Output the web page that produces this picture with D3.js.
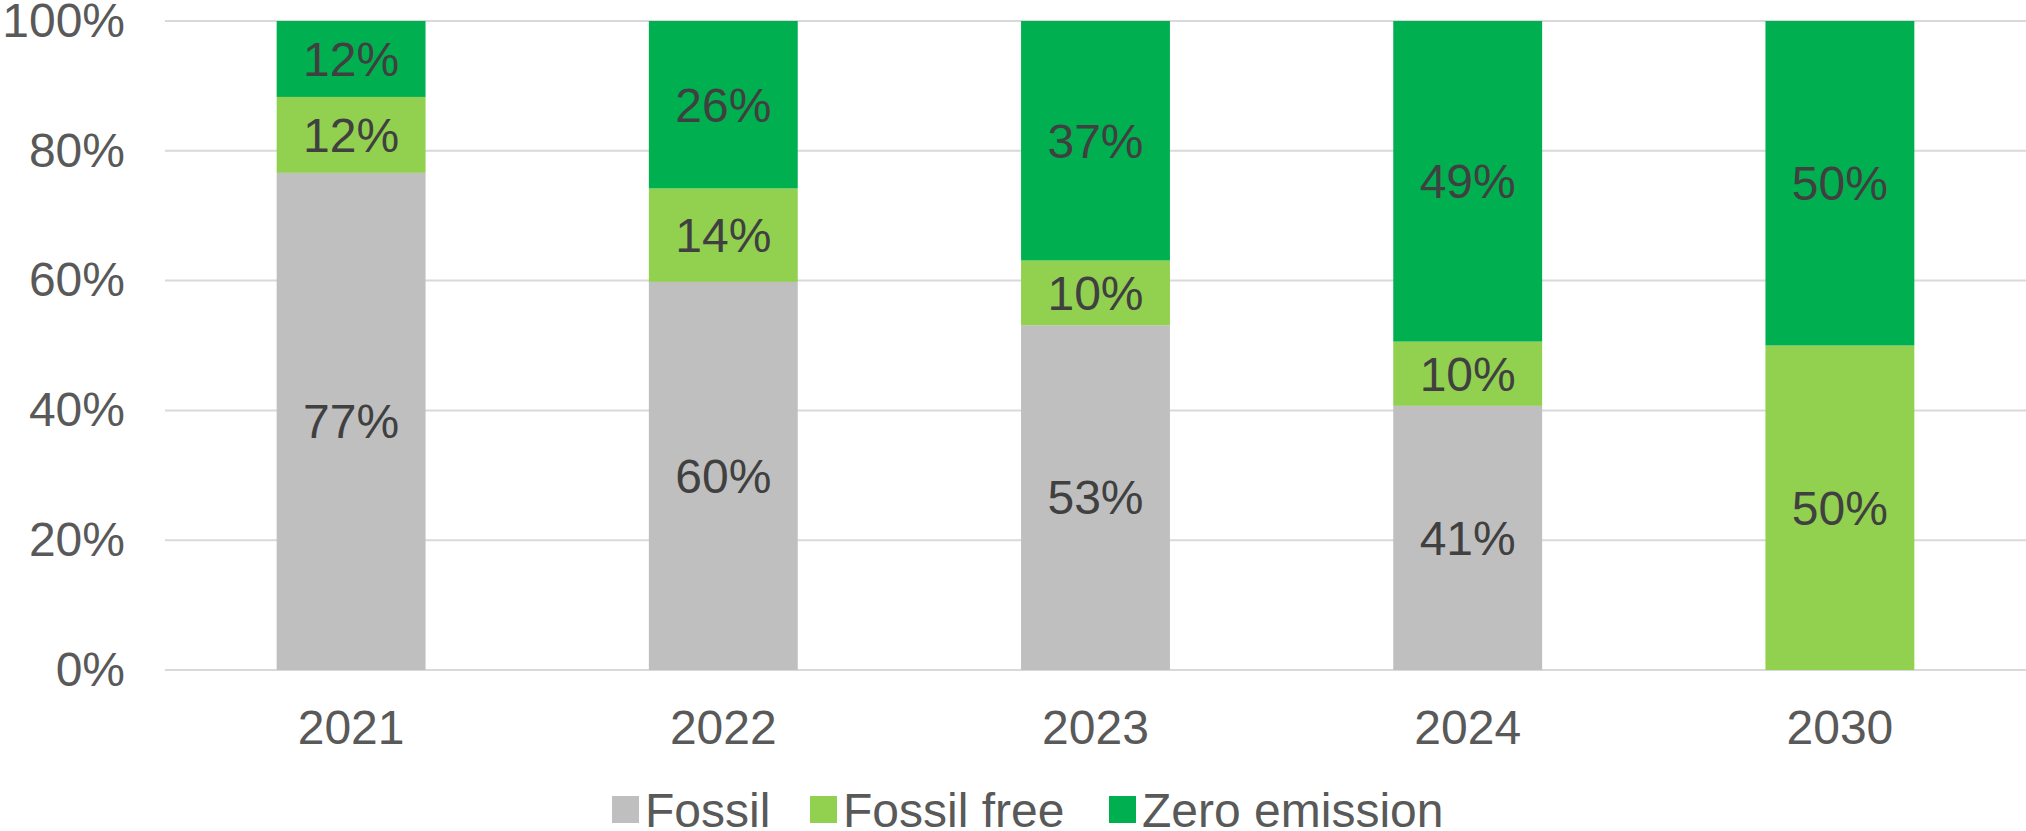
<!DOCTYPE html>
<html>
<head>
<meta charset="utf-8">
<script src="https://cdn.jsdelivr.net/npm/d3@7"></script>
<style>
  html, body { margin: 0; padding: 0; background: #ffffff; }
  svg { display: block; font-family: "Liberation Sans", Arial, sans-serif; }
</style>
</head>
<body>
<svg id="chart" width="2026" height="831"></svg>
<script>
// Share of each drivetrain type per year (fractions of 100%)
const years = ["2021", "2022", "2023", "2024", "2030"];
const fossil = [0.766, 0.598, 0.531, 0.407, 0.0];
const fossilFree = [0.117, 0.144, 0.100, 0.099, 0.5];
const zeroEmission = [0.117, 0.258, 0.369, 0.494, 0.5];
const seriesNames = ["Fossil", "Fossil free", "Zero emission"];
const seriesColors = ["#BFBFBF", "#92D050", "#00B050"];
const yTicks = [0, 0.2, 0.4, 0.6, 0.8, 1.0];

const rows = years.map((y, i) => ({
  year: y,
  "Fossil": fossil[i],
  "Fossil free": fossilFree[i],
  "Zero emission": zeroEmission[i]
}));

const svg = d3.select("#chart");
const plot = { left: 165, right: 2026, top: 21, bottom: 670 };

const x = d3.scaleBand()
  .domain(years)
  .range([plot.left, plot.right])
  .paddingInner(0.6)
  .paddingOuter(0.3);

const y = d3.scaleLinear()
  .domain([0, 1])
  .range([plot.bottom, plot.top]);

const color = d3.scaleOrdinal().domain(seriesNames).range(seriesColors);

// Gridlines
svg.append("g")
  .selectAll("line")
  .data(yTicks)
  .join("line")
  .attr("x1", plot.left)
  .attr("x2", plot.right)
  .attr("y1", d => y(d))
  .attr("y2", d => y(d))
  .attr("stroke", "#D9D9D9")
  .attr("stroke-width", 2);

// Y axis labels
const yAxis = svg.append("g")
  .attr("transform", `translate(${plot.left - 40},0)`)
  .call(d3.axisLeft(y).tickValues(yTicks).tickFormat(d3.format(".0%")).tickSize(0).tickPadding(0));
yAxis.select(".domain").remove();
yAxis.selectAll("text")
  .attr("font-size", 48)
  .attr("fill", "#595959")
  .attr("font-family", "Liberation Sans, Arial, sans-serif");

// X axis labels
const xAxis = svg.append("g")
  .attr("transform", `translate(0,${plot.bottom})`)
  .call(d3.axisBottom(x).tickSize(0).tickPadding(40));
xAxis.select(".domain").remove();
xAxis.selectAll("text")
  .attr("font-size", 48)
  .attr("fill", "#595959")
  .attr("font-family", "Liberation Sans, Arial, sans-serif");

// Stacked bars
const stack = d3.stack().keys(seriesNames);
const layers = stack(rows);

const layerG = svg.append("g")
  .selectAll("g")
  .data(layers)
  .join("g")
  .attr("fill", d => color(d.key));

layerG.selectAll("rect")
  .data(d => d)
  .join("rect")
  .attr("x", d => x(d.data.year))
  .attr("width", x.bandwidth())
  .attr("y", d => y(d[1]))
  .attr("height", d => y(d[0]) - y(d[1]));

// Value labels in the middle of each segment
const fmt = d3.format(".0%");
const labelG = svg.append("g");
layers.forEach(layer => {
  layer.forEach(d => {
    const v = d[1] - d[0];
    if (v <= 0) return;
    labelG.append("text")
      .attr("x", x(d.data.year) + x.bandwidth() / 2)
      .attr("y", y((d[0] + d[1]) / 2))
      .attr("dy", "0.35em")
      .attr("text-anchor", "middle")
      .attr("font-size", 48)
      .attr("fill", "#404040")
      .text(fmt(v));
  });
});

// Legend
const legendItems = [
  { name: seriesNames[0], x: 612 },
  { name: seriesNames[1], x: 810 },
  { name: seriesNames[2], x: 1109 }
];
const legend = svg.append("g");
legendItems.forEach(item => {
  legend.append("rect")
    .attr("x", item.x)
    .attr("y", 796)
    .attr("width", 27)
    .attr("height", 27)
    .attr("fill", color(item.name));
  legend.append("text")
    .attr("x", item.x + 33)
    .attr("y", 827)
    .attr("font-size", 48)
    .attr("fill", "#595959")
    .text(item.name);
});
</script>
</body>
</html>
